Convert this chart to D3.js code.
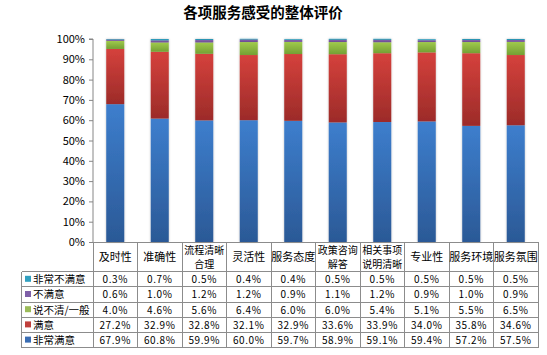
<!DOCTYPE html>
<html><head><meta charset="utf-8">
<script src="https://cdn.jsdelivr.net/npm/d3@7"></script>
<style>
body{margin:0;background:#fff;}
svg{display:block;}
text{font-family:"Noto Sans CJK SC","Liberation Sans",sans-serif;}
</style></head>
<body><svg id="c" width="547" height="355"></svg>
<script>
const title = "各项服务感受的整体评价";
const categories = ["及时性","准确性","流程清晰合理","灵活性","服务态度","政策咨询解答","相关事项说明清晰","专业性","服务环境","服务氛围"];
const seriesNames = ["非常满意","满意","说不清/一般","不满意","非常不满意"];
const veryDissatisfied = [0.3,0.7,0.5,0.4,0.4,0.5,0.5,0.5,0.5,0.5];
const dissatisfied = [0.6,1.0,1.2,1.2,0.9,1.1,1.2,0.9,1.0,0.9];
const neutral = [4.0,4.6,5.6,6.4,6.0,6.0,5.4,5.1,5.5,6.5];
const satisfied = [27.2,32.9,32.8,32.1,32.9,33.6,33.9,34.0,35.8,34.6];
const verySatisfied = [67.9,60.8,59.9,60.0,59.7,58.9,59.1,59.4,57.2,57.5];
const yTicks = [0,10,20,30,40,50,60,70,80,90,100];

(function(){
const seriesValues = [verySatisfied, satisfied, neutral, dissatisfied, veryDissatisfied];
const gradTop = ["#3d7ecd","#d5413c","#a0ca4c","#8461ad","#34a9c9"];
const gradBot = ["#2b5996","#9c2b29","#74a034","#6a4b92","#22809c"];
const keyColor = ["#3a6db3","#c0403c","#9bbb59","#7f60a8","#31a0c0"];

const svg = d3.select("#c");
const defs = svg.append("defs");
seriesNames.forEach((s,i)=>{
  const g = defs.append("linearGradient").attr("id","g"+i).attr("x1",0).attr("y1",0).attr("x2",0).attr("y2",1);
  g.append("stop").attr("offset","0%").attr("stop-color",gradTop[i]);
  g.append("stop").attr("offset","100%").attr("stop-color",gradBot[i]);
});
const f = defs.append("filter").attr("id","sh").attr("x","-30%").attr("y","-5%").attr("width","160%").attr("height","110%");
f.append("feDropShadow").attr("dx",0).attr("dy",0).attr("stdDeviation",1.2).attr("flood-color","#000").attr("flood-opacity",0.25);

const pLeft = 93, pRight = 538, pTop = 39, pBottom = 242;
const x = d3.scaleBand().domain(categories).range([pLeft,pRight]).padding(0);
const y = d3.scaleLinear().domain([0,100]).range([pBottom,pTop]);
const step = x.step();
const barW = step*0.405;

svg.append("text").attr("x",263).attr("y",18).attr("text-anchor","middle")
  .attr("font-size",14.5).attr("font-weight","bold").attr("fill","#000").text(title);

const rows = categories.map((c,j)=>{const o={cat:c}; seriesNames.forEach((s,i)=>o[s]=seriesValues[i][j]); return o;});
const stacked = d3.stack().keys(seriesNames)(rows);

const barsG = svg.append("g").attr("filter","url(#sh)");
stacked.forEach((layer,i)=>{
  barsG.selectAll(null).data(layer).enter().append("rect")
    .attr("x",d=>x(d.data.cat)+(step-barW)/2)
    .attr("width",barW)
    .attr("y",d=>y(d[1]))
    .attr("height",d=>y(d[0])-y(d[1]))
    .attr("fill","url(#g"+i+")");
});

const ax = svg.append("g").attr("transform",`translate(${pLeft},0)`)
  .call(d3.axisLeft(y).tickValues(yTicks).tickFormat(d=>d+"%").tickSize(4).tickPadding(4));
ax.select(".domain").attr("stroke","#868686").attr("d",`M-4,${pTop}H0V${pBottom}`);
ax.selectAll(".tick line").attr("stroke","#868686");
ax.selectAll(".tick text").attr("font-family","Liberation Sans, Arial, sans-serif").attr("font-size",11).attr("fill","#000");

const lineC = "#8c8c8c";
const hdrBottom = 271.7, rowH = 15.2, legLeft = 21.7;
const nRows = seriesNames.length;
const tblBottom = hdrBottom + rowH*nRows;
const tg = svg.append("g");
tg.append("line").attr("x1",pLeft).attr("x2",pRight).attr("y1",pBottom).attr("y2",pBottom);
for(let r=0;r<=nRows;r++){
  const yy = hdrBottom + r*rowH;
  tg.append("line").attr("x1",legLeft).attr("x2",pRight).attr("y1",yy).attr("y2",yy);
}
tg.append("line").attr("x1",legLeft).attr("x2",legLeft).attr("y1",hdrBottom).attr("y2",tblBottom);
categories.forEach(c=>{
  tg.append("line").attr("x1",x(c)).attr("x2",x(c)).attr("y1",pBottom).attr("y2",tblBottom);
});
tg.append("line").attr("x1",pRight).attr("x2",pRight).attr("y1",pBottom).attr("y2",tblBottom);
tg.selectAll("line").attr("stroke",lineC).attr("stroke-width",1).attr("shape-rendering","crispEdges");

categories.forEach(c=>{
  const lines = c.length>5 ? [c.slice(0,4), c.slice(4)] : [c];
  const cx = x(c)+step/2;
  const mid = (pBottom+hdrBottom)/2 + 4;
  lines.forEach((l,k)=>{
    tg.append("text").attr("text-anchor","middle").attr("font-size",lines.length>1?10:11).attr("fill","#000")
      .attr("x",cx).attr("y", mid + (k-(lines.length-1)/2)*14.6).text(l);
  });
});

const order = [4,3,2,1,0];
order.forEach((si,r)=>{
  const cy = hdrBottom + r*rowH + rowH/2;
  tg.append("rect").attr("x",25).attr("y",cy-3.5).attr("width",6).attr("height",6).attr("fill",keyColor[si]);
  tg.append("text").attr("x",33).attr("y",cy+3.8).attr("font-size",10.5).attr("fill","#000").text(seriesNames[si]);
  categories.forEach((c,j)=>{
    tg.append("text").attr("x",x(c)+step/2).attr("y",cy+3.8).attr("text-anchor","middle")
      .attr("font-size",10).attr("letter-spacing","0.6px").attr("fill","#000")
      .text(seriesValues[si][j].toFixed(1)+"%");
  });
});
})();
</script></body></html>
